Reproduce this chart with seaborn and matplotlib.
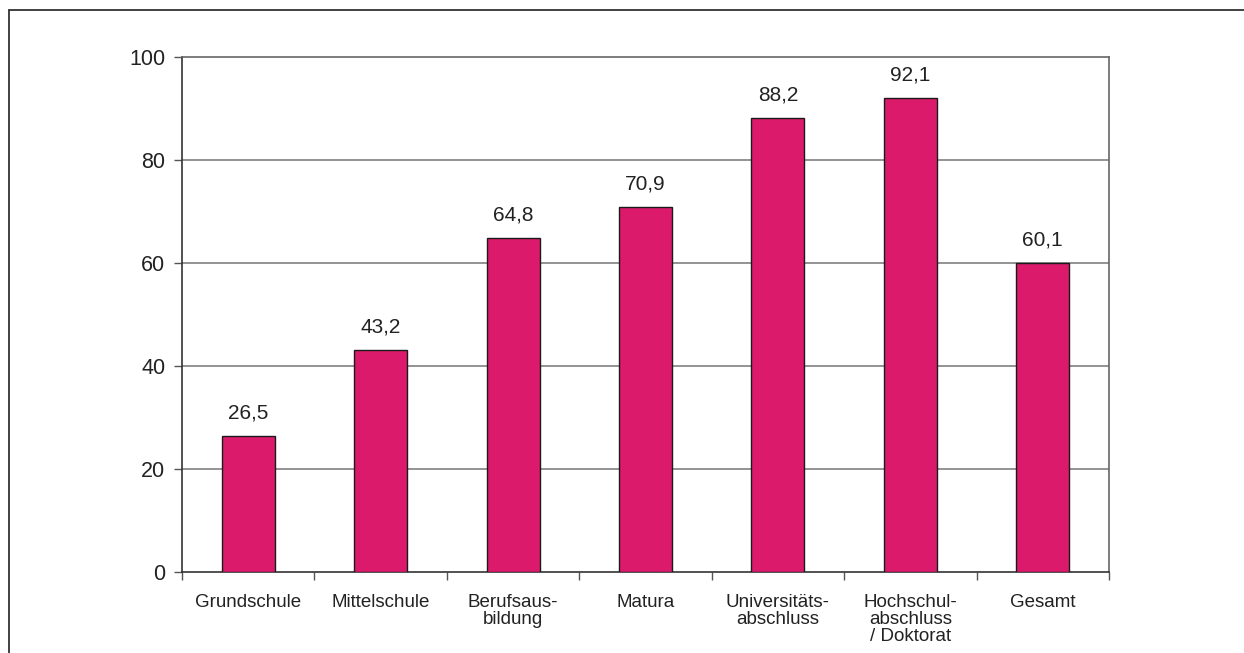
import matplotlib
matplotlib.use("Agg")
import matplotlib.pyplot as plt
from matplotlib.lines import Line2D
from matplotlib.ticker import FixedLocator
import seaborn as sns
import pandas as pd

# Education level categories and share values (%)
categories = ["Grundschule", "Mittelschule", "Berufsaus-\nbildung", "Matura",
              "Universitäts-\nabschluss", "Hochschul-\nabschluss\n/ Doktorat", "Gesamt"]
values = [26.5, 43.2, 64.8, 70.9, 88.2, 92.1, 60.1]
y_ticks = [0, 20, 40, 60, 80, 100]

df = pd.DataFrame({"Kategorie": categories, "Wert": values})

sns.set_theme(style="white")
plt.rcParams["font.family"] = ["Liberation Sans", "DejaVu Sans"]

fig = plt.figure(figsize=(12.44, 6.53), dpi=100)
ax = fig.add_axes([0.1463, 0.124, 0.8915 - 0.1463, 0.9127 - 0.124])

bar_color = "#DB1A6B"
sns.barplot(data=df, x="Kategorie", y="Wert", color=bar_color, saturation=1,
            width=0.4, edgecolor="#1a1a1a", linewidth=1.0, ax=ax, zorder=3)

ax.set_ylim(0, 100)
ax.set_xlim(-0.5, len(categories) - 0.5)
ax.set_yticks(y_ticks)
ax.set_xlabel("")
ax.set_ylabel("")

# Horizontal gridlines
for t in y_ticks[1:-1]:
    ax.axhline(t, color="#808080", linewidth=1.2, zorder=1)

# Spines
for side in ["left", "bottom"]:
    ax.spines[side].set_color("#333333")
    ax.spines[side].set_linewidth(1.2)
for side in ["top", "right"]:
    ax.spines[side].set_color("#666666")
    ax.spines[side].set_linewidth(1.2)
    ax.spines[side].set_visible(True)

# Tick styling
ax.tick_params(axis="y", which="major", direction="out", length=6, width=1,
               color="#555555", labelsize=15.5, labelcolor="#222222", pad=6, left=True)
ax.tick_params(axis="x", which="major", length=0, pad=16, labelsize=13.5,
               labelcolor="#222222")
ax.xaxis.set_minor_locator(FixedLocator([i - 0.5 for i in range(len(categories) + 1)]))
ax.tick_params(axis="x", which="minor", direction="out", length=6, width=1,
               color="#555555", bottom=True)
for lab in ax.get_xticklabels():
    lab.set_linespacing(1.0)
    lab.set_verticalalignment("top")

# Value labels above bars
for i, v in enumerate(values):
    ax.annotate(f"{v:.1f}".replace(".", ","), xy=(i, v), xytext=(0, 12.5),
                textcoords="offset points", ha="center", va="baseline",
                fontsize=15, color="#222222")

# Outer frame lines (left and top)
fig.add_artist(Line2D([0.0072, 0.0072], [0.0, 0.9847], transform=fig.transFigure,
                      color="#333333", linewidth=1.3))
fig.add_artist(Line2D([0.0072, 1.0], [0.9847, 0.9847], transform=fig.transFigure,
                      color="#333333", linewidth=1.3))

fig.savefig("out.png", dpi=100)
